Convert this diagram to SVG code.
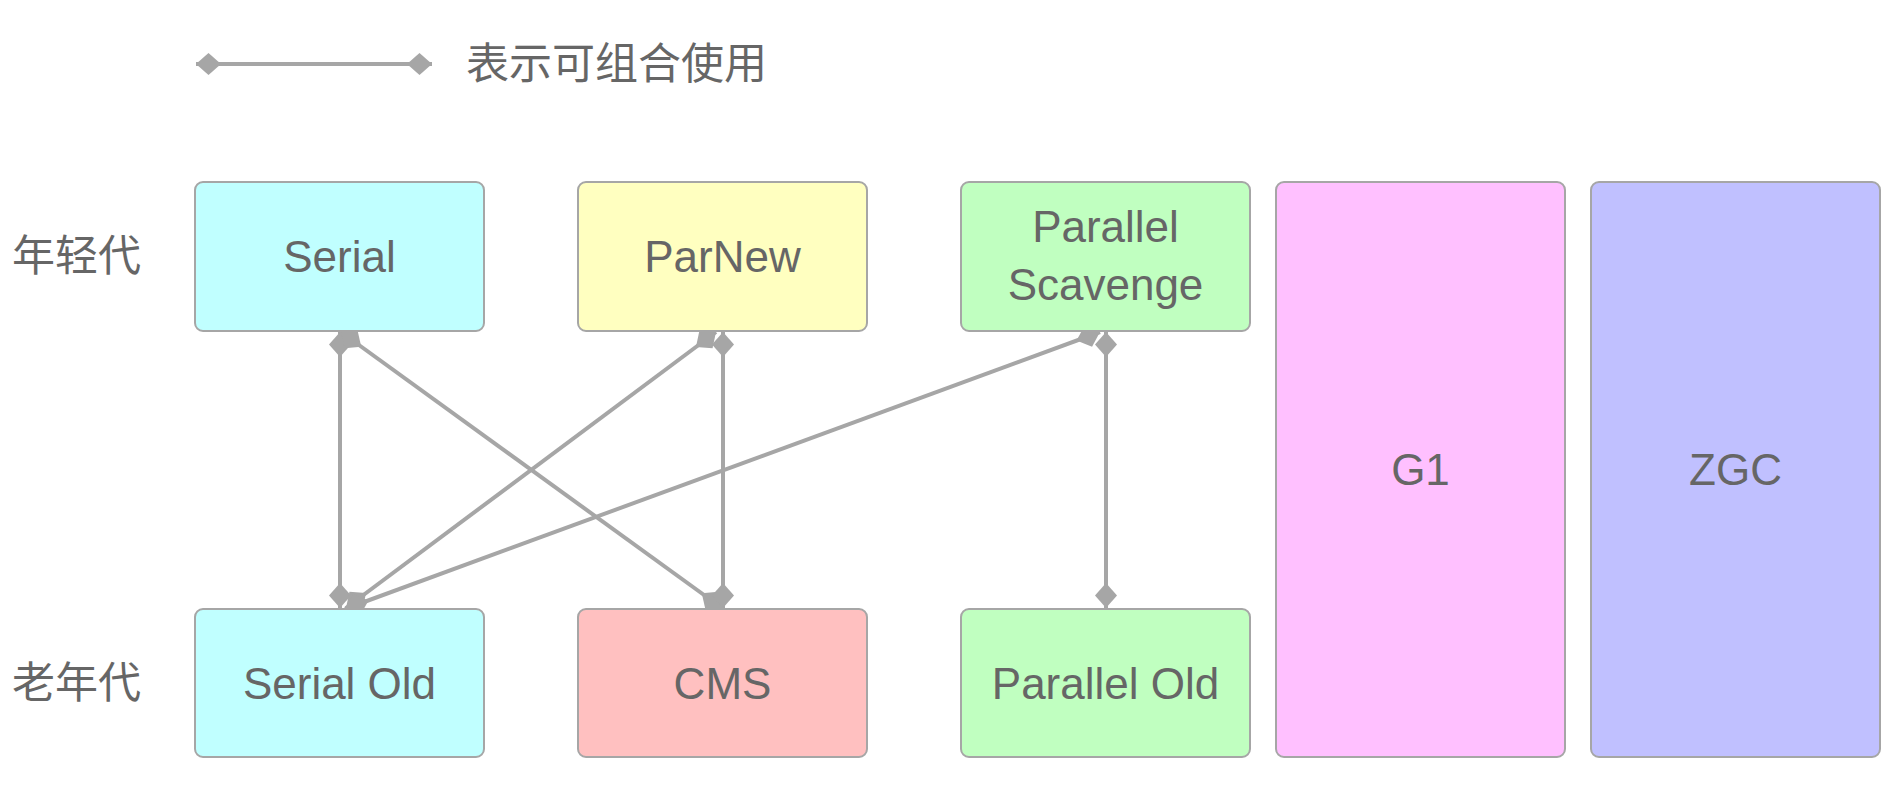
<svg xmlns="http://www.w3.org/2000/svg" width="1882" height="786" viewBox="0 0 1882 786">
  <defs>
    <style>
      .box { stroke: #a6a6a6; stroke-width: 2; }
      .lbl { font-family: "Liberation Sans", Arial, sans-serif; font-size: 44px; fill: #666666; text-anchor: middle; }
      .cjk { font-family: "Liberation Sans", "Noto Sans CJK SC", sans-serif; font-size: 43px; fill: #666666; }
      .conn { stroke: #a6a6a6; stroke-width: 4; fill: none; marker-start: url(#dia); marker-end: url(#dia); }
    </style>
    <marker id="dia" markerUnits="userSpaceOnUse" markerWidth="26" markerHeight="24" viewBox="-25 -12 26 24" refX="0" refY="0" orient="auto-start-reverse" overflow="visible">
      <path d="M0,0 L-12.5,-11 L-25,0 L-12.5,11 Z" fill="#a6a6a6"/>
    </marker>
  </defs>
  <rect width="1882" height="786" fill="#ffffff"/>

  <g id="legend">
    <line class="conn" x1="196" y1="64" x2="432" y2="64"/>
    <text class="cjk" x="466" y="79" font-size="41">表示可组合使用</text>
  </g>

  <g id="row-labels">
    <text class="cjk" x="12" y="271">年轻代</text>
    <text class="cjk" x="12" y="698">老年代</text>
  </g>

  <g id="connectors">
    <line class="conn" x1="340" y1="332" x2="340" y2="608"/>
    <line class="conn" x1="341" y1="332" x2="722" y2="608"/>
    <line class="conn" x1="716" y1="332" x2="346" y2="608"/>
    <line class="conn" x1="723" y1="332" x2="723" y2="608"/>
    <line class="conn" x1="1100" y1="332" x2="345" y2="609"/>
    <line class="conn" x1="1106" y1="332" x2="1106" y2="608"/>
  </g>

  <g id="serial">
    <rect class="box" x="195" y="182" width="289" height="149" rx="8" fill="#c0ffff"/>
    <text class="lbl" x="339.5" y="272">Serial</text>
  </g>
  <g id="parnew">
    <rect class="box" x="578" y="182" width="289" height="149" rx="8" fill="#ffffc0"/>
    <text class="lbl" x="722.5" y="272">ParNew</text>
  </g>
  <g id="parallel-scavenge">
    <rect class="box" x="961" y="182" width="289" height="149" rx="8" fill="#c0ffc0"/>
    <text class="lbl" x="1105.5" y="242">Parallel</text>
    <text class="lbl" x="1105.5" y="300">Scavenge</text>
  </g>
  <g id="g1">
    <rect class="box" x="1276" y="182" width="289" height="575" rx="8" fill="#ffc0ff"/>
    <text class="lbl" x="1420.5" y="485">G1</text>
  </g>
  <g id="zgc">
    <rect class="box" x="1591" y="182" width="289" height="575" rx="8" fill="#c0c0ff"/>
    <text class="lbl" x="1735.5" y="485">ZGC</text>
  </g>
  <g id="serial-old">
    <rect class="box" x="195" y="609" width="289" height="148" rx="8" fill="#c0ffff"/>
    <text class="lbl" x="339.5" y="699">Serial Old</text>
  </g>
  <g id="cms">
    <rect class="box" x="578" y="609" width="289" height="148" rx="8" fill="#ffc0c0"/>
    <text class="lbl" x="722.5" y="699">CMS</text>
  </g>
  <g id="parallel-old">
    <rect class="box" x="961" y="609" width="289" height="148" rx="8" fill="#c0ffc0"/>
    <text class="lbl" x="1105.5" y="699">Parallel Old</text>
  </g>
</svg>
